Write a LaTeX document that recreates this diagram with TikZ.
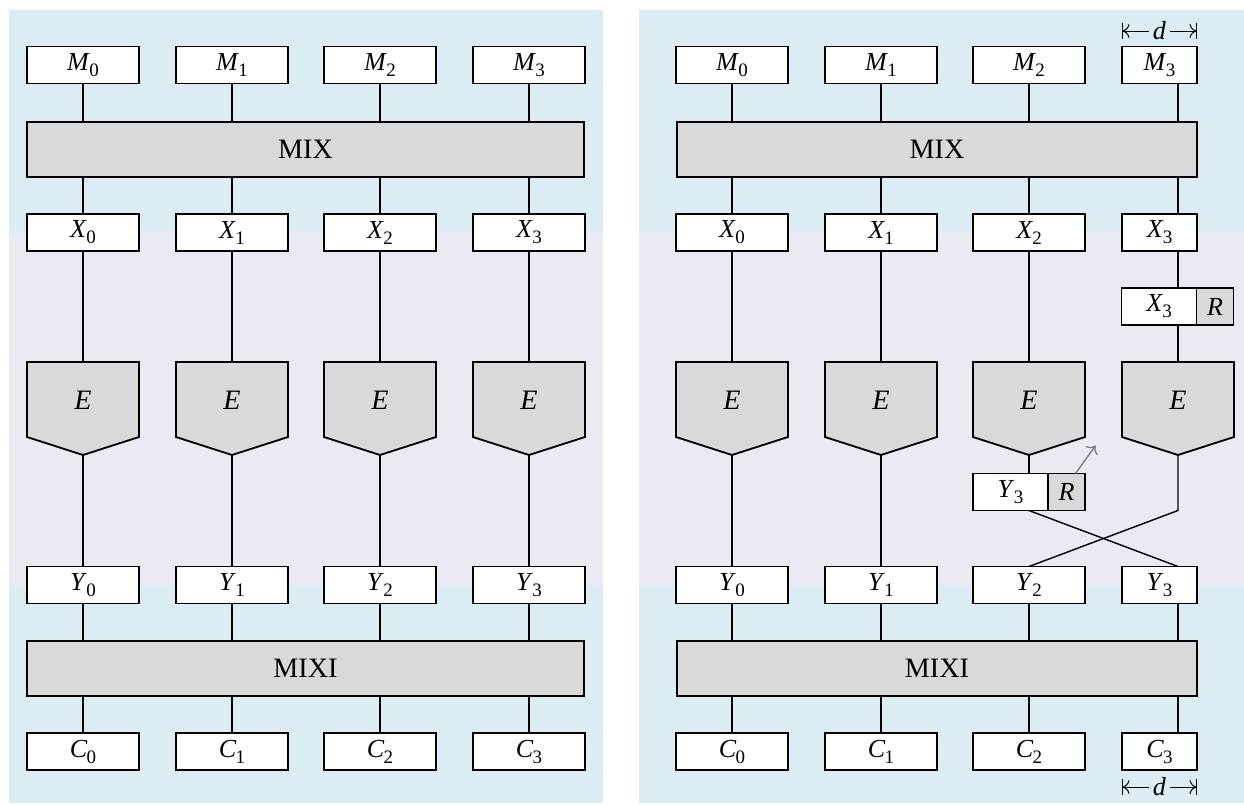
\documentclass[tikz,border=0pt]{standalone}
\usepackage{fontspec}
\setmainfont{Liberation Serif}
\usetikzlibrary{arrows.meta,calc}
\definecolor{bgblue}{RGB}{219,237,242}
\definecolor{bgviolet}{RGB}{235,233,242}
\definecolor{keygray}{RGB}{217,217,217}
% italic letter with a lowered index, set in the text font
\newcommand{\blk}[2]{\textit{#1}\kern-0.5pt\raisebox{-0.5ex}{\fontsize{13.5}{15}\selectfont #2}}

\begin{document}
\begin{tikzpicture}[x=0.025cm,y=-0.025cm]
	\tikzset{font=\fontsize{18.5}{21}\selectfont}
	\tikzset{box/.style = {draw,line width=1.3pt,fill=white,outer sep=0pt,inner sep=0pt,
			minimum width=2.8cm,minimum height=0.925cm}}
	\tikzset{narrow/.style = {box,minimum width=1.875cm}}
	\tikzset{key/.style = {box,fill=keygray,minimum width=0.925cm}}
	\tikzset{mixbox/.style = {box,fill=keygray,minimum height=1.375cm,font=\fontsize{20}{23}\selectfont}}
	\tikzset{eblock/.style = {draw,line width=1.3pt,fill=keygray}}
	\tikzset{elabel/.style = {font=\fontsize{20}{23}\selectfont\itshape}}
	\tikzset{edge/.style = {-,line width=1pt}}
	\tikzset{dim/.style = {{Bar[width=11pt,line width=0.6pt]To[scale=1.5,sep=0pt]}-{To[scale=1.5,sep=0pt]Bar[width=11pt,line width=0.6pt]},line width=0.7pt}}
	\useasboundingbox (0,0) rectangle (1244,804);
	% backgrounds
	\fill[bgblue] (9,10) rectangle (603,803);
	\fill[bgviolet] (9,233) rectangle (603,585);
	\fill[bgblue] (639,10) rectangle (1244,803);
	\fill[bgviolet] (639,233) rectangle (1244,585);

	% left: plain mode
	\foreach \i/\x in {0/83,1/232,2/380,3/529} {
		\node[box] (lm\i) at (\x,65) {\blk{M}{\i}};
		\node[box] (lx\i) at (\x,232.5) {\blk{X}{\i}};
		\draw[eblock] (\x-56,362) -- (\x+56,362) -- (\x+56,437) -- (\x,455) -- (\x-56,437) -- cycle;
		\node[elabel] (le\i) at (\x,400) {E};
		\coordinate (le\i-in) at (\x,362);
		\coordinate (le\i-out) at (\x,455);
		\node[box] (ly\i) at (\x,585) {\blk{Y}{\i}};
		\node[box] (lc\i) at (\x,751.5) {\blk{C}{\i}};
	}
	\node[mixbox,minimum width=13.925cm] (lmix) at (305.5,149.5) {MIX};
	\node[mixbox,minimum width=13.925cm] (lmixi) at (305.5,668.5) {MIXI};
	%edges
	\foreach \i in {0,...,3} {
		\draw[edge] (lm\i.south) -- (lm\i.south |- lmix.north);
		\draw[edge] (lx\i.north |- lmix.south) -- (lx\i.north);
		\draw[edge] (lx\i.south) -- (le\i-in);
		\draw[edge] (le\i-out) -- (ly\i.north);
		\draw[edge] (ly\i.south) -- (ly\i.south |- lmixi.north);
		\draw[edge] (lc\i.north |- lmixi.south) -- (lc\i.north);
	}

	% right: with stolen block
	\foreach \i/\x in {0/732,1/881,2/1029} {
		\node[box] (rm\i) at (\x,65) {\blk{M}{\i}};
		\node[box] (rx\i) at (\x,232.5) {\blk{X}{\i}};
		\node[box] (ry\i) at (\x,585) {\blk{Y}{\i}};
		\node[box] (rc\i) at (\x,751.5) {\blk{C}{\i}};
	}
	\node[narrow] (rm3) at (1159.5,65) {\blk{M}{3}};
	\node[narrow] (rx3) at (1159.5,232.5) {\blk{X}{3}};
	\node[narrow] (ry3) at (1159.5,585) {\blk{Y}{3}};
	\node[narrow] (rc3) at (1159.5,751.5) {\blk{C}{3}};
	\foreach \i/\x in {0/732,1/881,2/1029,3/1178} {
		\draw[eblock] (\x-56,362) -- (\x+56,362) -- (\x+56,437) -- (\x,455) -- (\x-56,437) -- cycle;
		\node[elabel] (re\i) at (\x,400) {E};
		\coordinate (re\i-in) at (\x,362);
		\coordinate (re\i-out) at (\x,455);
	}
	\node[mixbox,minimum width=13cm] (rmix) at (937,149.5) {MIX};
	\node[mixbox,minimum width=13cm] (rmixi) at (937,668.5) {MIXI};
	\node[narrow] (rxs) at (1159,306.5) {\blk{X}{3}};
	\node[key,anchor=west] (rkx) at (rxs.east) {\textit{R}};
	\node[narrow] (rys) at (1010.5,492) {\blk{Y}{3}};
	\node[key,anchor=west] (rky) at (rys.east) {\textit{R}};
	%edges
	\foreach \i in {0,1,2} {
		\draw[edge] (rm\i.south) -- (rm\i.south |- rmix.north);
		\draw[edge] (rx\i.north |- rmix.south) -- (rx\i.north);
		\draw[edge] (rx\i.south) -- (re\i-in);
		\draw[edge] (ry\i.south) -- (ry\i.south |- rmixi.north);
		\draw[edge] (rc\i.north |- rmixi.south) -- (rc\i.north);
	}
	\draw[edge] (re0-out) -- (ry0.north);
	\draw[edge] (re1-out) -- (ry1.north);
	\draw[edge] (rm3.south -| re3-in) -- (rmix.north -| re3-in);
	\draw[edge] (rmix.south -| re3-in) -- (rx3.north -| re3-in);
	\draw[edge] (rx3.south -| re3-in) -- (rxs.north -| re3-in);
	\draw[edge] (rxs.south -| re3-in) -- (re3-in);
	\draw[edge] (ry3.south -| re3-in) -- (rmixi.north -| re3-in);
	\draw[edge] (rmixi.south -| re3-in) -- (rc3.north -| re3-in);
	% swapped outputs
	\draw[edge] (re2-out) -- (rys.north -| re2-out);
	\draw[edge] (rys.south -| re2-out) -- (ry3.north -| re3-out);
	\draw[edge] (re3-out) -- (rys.south -| re3-out) -- (ry2.north);
	\draw[edge,-{To[scale=1.3]},gray] ($(rky.north)+(9,0)$) -- ($(rky.north)+(29,-28)$);
	% block width
	\draw[dim] ($(rm3.north west)+(0,-15.5)$) -- node[fill=bgblue,inner sep=3pt] {\textit{d}} ($(rm3.north east)+(0,-15.5)$);
	\draw[dim] ($(rc3.south west)+(0,17)$) -- node[fill=bgblue,inner sep=3pt] {\textit{d}} ($(rc3.south east)+(0,17)$);
\end{tikzpicture}
\end{document}
